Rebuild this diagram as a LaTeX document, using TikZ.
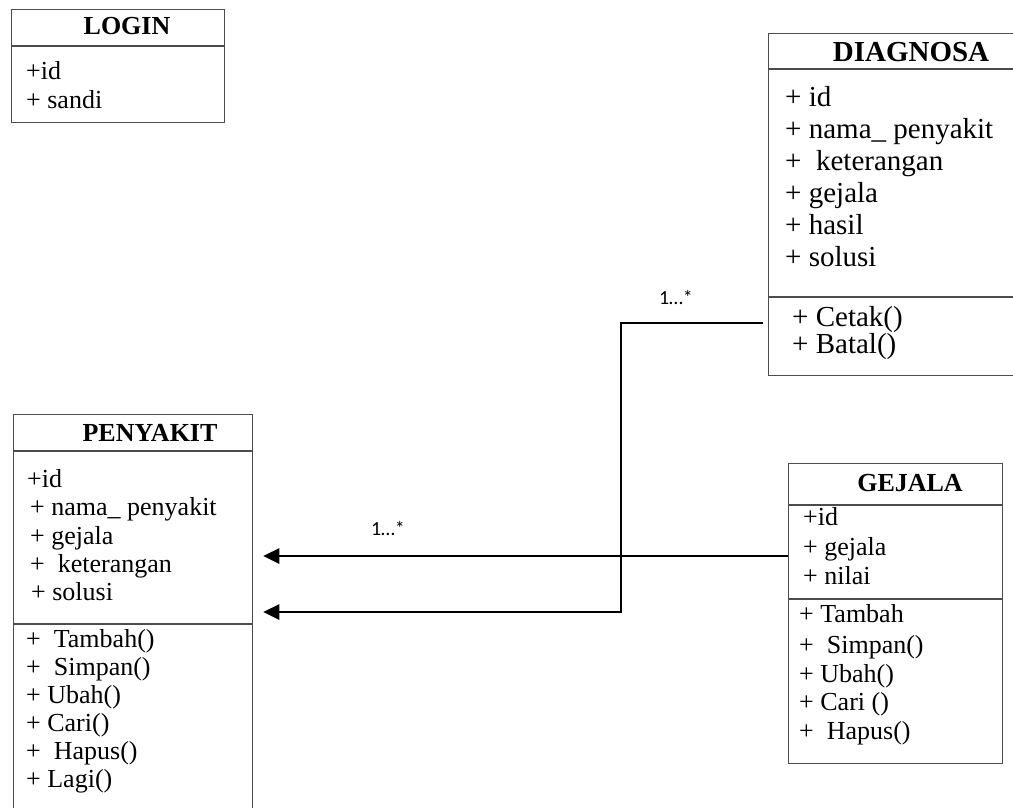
\documentclass[tikz,border=0pt]{standalone}
\usepackage{fontspec}
\setmainfont{Liberation Serif}
\newfontfamily\multfont{Carlito}
\usetikzlibrary{arrows.meta}

\begin{document}
\begin{tikzpicture}[x=1pt,y=-1pt,
  classbox/.style={draw=black!70, line width=1.3pt, anchor=north west, inner sep=0pt},
  rule/.style={draw=black!70, line width=1.3pt},
  classname/.style={inner sep=0pt, font=\bfseries\fontsize{26}{28}\selectfont},
  member/.style={anchor=west, inner sep=0pt, text height=0.62em, text depth=0.14em,
                 font=\fontsize{26}{28}\selectfont},
  bigmember/.style={member, font=\fontsize{29}{32}\selectfont},
  link/.style={line width=2.8pt},
  tip/.style={-{Triangle[length=16pt,width=15pt]}},
  mult/.style={inner sep=0pt, font=\multfont\fontsize{20}{22}\selectfont}]
\useasboundingbox (0,0) rectangle (1013,807);
\clip (0,0) rectangle (1013,807);

% ---------------- LOGIN ----------------
\node[classbox, minimum width=213pt, minimum height=113pt] (login) at (11,9) {};
\draw[rule] (login.west |- 0,46) -- (login.east |- 0,46);
\node[classname] (loginName) at (127,26) {LOGIN};
\node[member] (loginId)    at (26,77)  {+id};
\node[member] (loginSandi) at (26,106) {+ sandi};

% ---------------- DIAGNOSA ----------------
\node[classbox, minimum width=260pt, minimum height=342pt] (diagnosa) at (768,33) {};
\draw[rule] (diagnosa.west |- 0,69) -- (diagnosa.east |- 0,69);
\draw[rule] (diagnosa.west |- 0,297) -- (diagnosa.east |- 0,297);
\node[classname, font=\bfseries\fontsize{29}{32}\selectfont] (diagnosaName) at (911,52) {DIAGNOSA};
\node[bigmember] (dId)     at (785,104) {+ id};
\node[bigmember] (dNama)   at (785,136) {+ nama\_ penyakit};
\node[bigmember] (dKet)    at (785,168) {+\ \ keterangan};
\node[bigmember] (dGejala) at (785,200) {+ gejala};
\node[bigmember] (dHasil)  at (785,232) {+ hasil};
\node[bigmember] (dSolusi) at (785,264) {+ solusi};
\node[bigmember] (dCetak)  at (792,324) {+ Cetak()};
\node[bigmember] (dBatal)  at (792,351) {+ Batal()};

% ---------------- PENYAKIT ----------------
\node[classbox, minimum width=239pt, minimum height=420pt] (penyakit) at (13,414) {};
\draw[rule] (penyakit.west |- 0,451) -- (penyakit.east |- 0,451);
\draw[rule] (penyakit.west |- 0,624) -- (penyakit.east |- 0,624);
\node[classname] (penyakitName) at (150,433) {PENYAKIT};
\node[member] (pId)     at (27,485) {+id};
\node[member] (pNama)   at (30,513) {+ nama\_ penyakit};
\node[member] (pGejala) at (30,542) {+ gejala};
\node[member] (pKet)    at (30,570) {+\ \ keterangan};
\node[member] (pSolusi) at (31,598) {+ solusi};
\node[member] (pTambah) at (26,645) {+\ \ Tambah()};
\node[member] (pSimpan) at (26,673) {+\ \ Simpan()};
\node[member] (pUbah)   at (26,701) {+ Ubah()};
\node[member] (pCari)   at (26,729) {+ Cari()};
\node[member] (pHapus)  at (26,757) {+\ \ Hapus()};
\node[member] (pLagi)   at (26,785) {+ Lagi()};

% ---------------- GEJALA ----------------
\node[classbox, minimum width=214pt, minimum height=300pt] (gejala) at (788,463) {};
\draw[rule] (gejala.west |- 0,505) -- (gejala.east |- 0,505);
\draw[rule] (gejala.west |- 0,599) -- (gejala.east |- 0,599);
\node[classname] (gejalaName) at (910,483) {GEJALA};
\node[member] (gId)     at (803,523) {+id};
\node[member] (gGejala) at (803,553) {+ gejala};
\node[member] (gNilai)  at (803,582) {+ nilai};
\node[member] (gTambah) at (799,620) {+ Tambah};
\node[member] (gSimpan) at (799,651) {+\ \ Simpan()};
\node[member] (gUbah)   at (799,680) {+ Ubah()};
\node[member] (gCari)   at (799,708) {+ Cari ()};
\node[member] (gHapus)  at (799,737) {+\ \ Hapus()};

% ---------------- associations ----------------
\coordinate (tipUpper) at ([xshift=10pt]penyakit.east |- 0,556);
\coordinate (tipLower) at ([xshift=10pt]penyakit.east |- 0,612);
\coordinate (diagEnd)  at ([xshift=-5pt]diagnosa.west |- 0,323);
\coordinate (jog)      at (621,323);

\draw[link, tip] (gejala.west |- tipUpper) -- (tipUpper);
\draw[link, tip] (diagEnd) -- (jog) |- (tipLower);

\node[mult] (multDiag)   at (676,297) {1…*};
\node[mult] (multGejala) at (388,528) {1…*};
\end{tikzpicture}
\end{document}
